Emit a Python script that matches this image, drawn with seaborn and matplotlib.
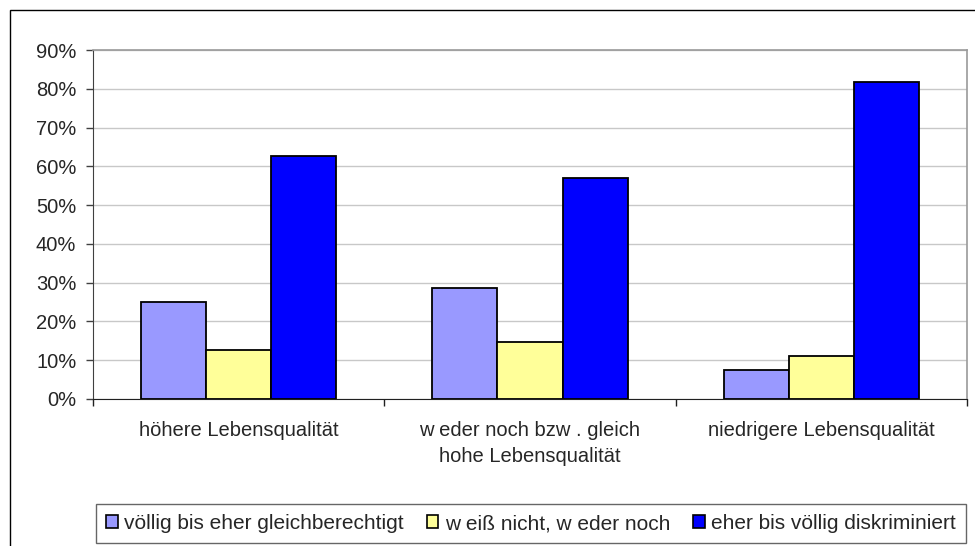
import pandas as pd
import matplotlib.pyplot as plt
import seaborn as sns
from matplotlib.patches import Rectangle
from matplotlib.ticker import PercentFormatter, FixedLocator

# Data
groups = ["höhere Lebensqualität",
          "w eder noch bzw . gleich\nhohe Lebensqualität",
          "niedrigere Lebensqualität"]
series = ["völlig bis eher gleichberechtigt",
          "w eiß nicht, w eder noch",
          "eher bis völlig diskriminiert"]
gleich = [25.0, 28.7, 7.6]
weiss_nicht = [12.7, 14.8, 11.2]
diskriminiert = [62.7, 57.1, 81.7]
colors = ["#9999ff", "#ffff99", "#0000ff"]

df = pd.DataFrame({
    "group": groups * 3,
    "series": [series[0]] * 3 + [series[1]] * 3 + [series[2]] * 3,
    "value": gleich + weiss_nicht + diskriminiert,
})

sns.set_style("white")
plt.rcParams["font.family"] = ["Liberation Sans", "DejaVu Sans"]
fs = 14.5

fig = plt.figure(figsize=(9.75, 5.46), dpi=100)
ax = fig.add_axes([93 / 975, 1 - 399 / 546, (967 - 93) / 975, (399 - 50) / 546])

sns.barplot(data=df, x="group", y="value", hue="series", palette=colors,
            width=0.67, edgecolor="black", linewidth=1.3, saturation=1,
            ax=ax, legend=False)

ax.set_ylim(0, 90)
ax.set_xlim(-0.5, 2.5)
ax.yaxis.set_major_locator(FixedLocator(range(0, 91, 10)))
ax.yaxis.set_major_formatter(PercentFormatter(decimals=0))
ax.grid(axis="y", color="#c8c8c8", linewidth=1)
ax.set_axisbelow(True)
ax.set_xlabel("")
ax.set_ylabel("")

for s in ["top", "right"]:
    ax.spines[s].set_color("#9a9a9a")
    ax.spines[s].set_linewidth(1.2)
ax.spines["left"].set_color("#404040")
ax.spines["bottom"].set_color("#202020")

ax.tick_params(axis="y", which="major", length=5, width=1, color="#404040",
               labelsize=fs, pad=7, left=True)
ax.tick_params(axis="x", which="major", length=0, labelsize=fs, pad=16)
for lbl in ax.get_xticklabels():
    lbl.set_linespacing(1.45)
ax.xaxis.set_minor_locator(FixedLocator([-0.5, 0.5, 1.5, 2.5]))
ax.tick_params(axis="x", which="minor", length=5, width=1, color="#202020",
               bottom=True)

# legend box at the bottom, stretched to the reference box
handles = [Rectangle((0, 0), 1, 1, facecolor=c, edgecolor="black", linewidth=1.2)
           for c in colors]
leg = fig.legend(handles, series, loc="center", ncol=3, mode="expand",
                 bbox_to_anchor=(96 / 975, 1 - 544 / 546, 870 / 975, 41 / 546),
                 frameon=True, fontsize=15, handlelength=0.55,
                 handleheight=0.55, handletextpad=0.3, columnspacing=0.5,
                 borderpad=0.5, borderaxespad=0, fancybox=False)
leg.get_frame().set_edgecolor("#404040")
leg.get_frame().set_linewidth(1)

# outer chart frame
fig.add_artist(Rectangle((10 / 975, -0.05), 1.0, 1.05 - 10 / 546,
                         transform=fig.transFigure, fill=False,
                         edgecolor="black", linewidth=1))

fig.savefig("out.png", dpi=100)
